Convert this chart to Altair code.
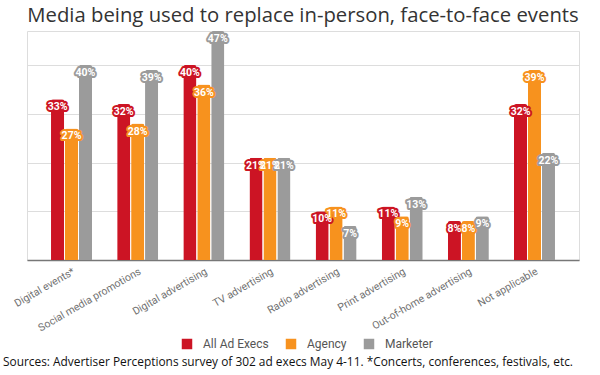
import altair as alt
import pandas as pd

categories = ["Digital events*", "Social media promotions", "Digital advertising",
              "TV advertising", "Radio advertising", "Print advertising",
              "Out-of-home advertising", "Not applicable"]
series = ["All Ad Execs", "Agency", "Marketer"]
all_ad_execs = [33, 32, 40, 21, 10, 11, 8, 32]
agency = [27, 28, 36, 21, 11, 9, 8, 39]
marketer = [40, 39, 47, 21, 7, 13, 9, 22]
colors = ["#CC1424", "#F7921E", "#9B9B9B"]

title_text = "Media being used to replace in-person, face-to-face events"
footer_text = "Sources: Advertiser Perceptions survey of 302 ad execs May 4-11. *Concerts, conferences, festivals, etc."

rows = []
for s, vals in zip(series, [all_ad_execs, agency, marketer]):
    for c, v in zip(categories, vals):
        rows.append({"category": c, "series": s, "value": v, "label": f"{v}%"})
df = pd.DataFrame(rows)

x = alt.X("category:N", sort=categories, title=None,
          scale=alt.Scale(paddingInner=0.38, paddingOuter=0.363),
          axis=alt.Axis(labelAngle=-30, labelColor="#707070", labelFontSize=10.5,
                        labelFont="Roboto", ticks=False, domainColor="#777777",
                        domainWidth=1.5, labelPadding=6, labelOverlap=False))
xo = alt.XOffset("series:N", sort=series, scale=alt.Scale(paddingInner=0.06, paddingOuter=0))
y = alt.Y("value:Q", title=None,
          scale=alt.Scale(domain=[0, 47], nice=False),
          axis=alt.Axis(values=[0, 10, 20, 30, 40], labels=False, ticks=False,
                        domain=False, gridColor="#DDDDDD", gridWidth=1.2))
color = alt.Color("series:N", sort=series,
                  scale=alt.Scale(domain=series, range=colors),
                  legend=alt.Legend(title=None, orient="none", direction="horizontal",
                                    legendX=154, legendY=307, symbolType="square",
                                    symbolSize=110, symbolStrokeWidth=0, symbolOpacity=1,
                                    labelFont="Roboto", labelFontSize=12, labelColor="#555555",
                                    labelOffset=10, columnPadding=16))

base = alt.Chart(df)
bars = base.mark_bar(cornerRadiusTopLeft=2, cornerRadiusTopRight=2).encode(
    x=x, xOffset=xo, y=y, color=color)
halo = base.mark_text(baseline="middle", dy=8, fontSize=10.5, fontWeight="bold",
                      font="Roboto", strokeWidth=4, strokeJoin="round").encode(
    x=x, xOffset=xo, y=y, text="label:N",
    color=alt.Color("series:N", sort=series, scale=alt.Scale(domain=series, range=colors), legend=None),
    stroke=alt.Stroke("series:N", sort=series, scale=alt.Scale(domain=series, range=colors), legend=None))
labels = base.mark_text(baseline="middle", dy=8, fontSize=10.5, fontWeight="bold",
                        font="Roboto", color="white").encode(
    x=x, xOffset=xo, y=y, text="label:N")

footer = alt.Chart(pd.DataFrame({"t": [footer_text]})).mark_text(
    align="left", baseline="middle", font="Open Sans", fontSize=11.9, color="#111111").encode(
    x=alt.value(-24), y=alt.value(331), text="t:N")

chart = alt.layer(bars, halo, labels, footer).properties(
    width=552, height=229,
    title=alt.TitleParams(title_text, font="Open Sans", fontSize=20.3, fontWeight="normal",
                          color="#333333", anchor="middle", offset=5),
    padding={"left": 27, "top": 31, "right": 21, "bottom": 115},
    autosize=alt.AutoSizeParams(type="none"),
).configure_view(stroke=None).configure(background="white")

chart.save("out.html", embed_options={"renderer": "svg", "actions": False})
